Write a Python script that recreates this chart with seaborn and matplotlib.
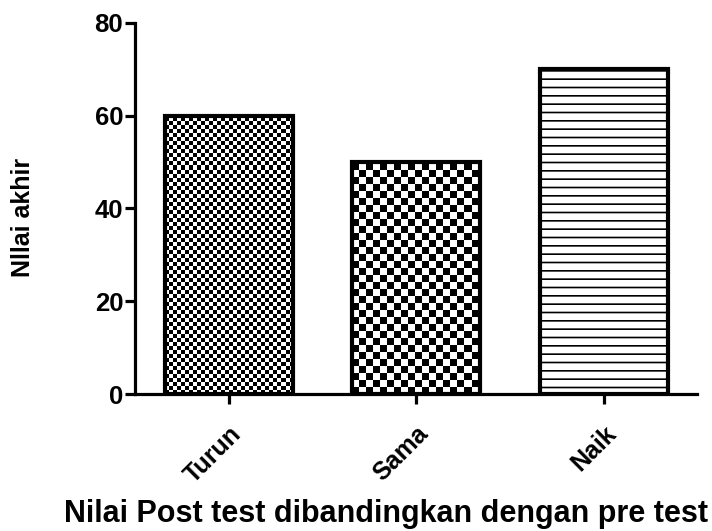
import numpy as np
import matplotlib
matplotlib.use("Agg")
import matplotlib.pyplot as plt
import seaborn as sns

# data
kategori = ["Turun", "Sama", "Naik"]
nilai = [60, 50, 70]
y_ticks = [0, 20, 40, 60, 80]

sns.set_style("ticks")
plt.rcParams["font.family"] = ["Liberation Sans", "DejaVu Sans"]
plt.rcParams["font.weight"] = "bold"
plt.rcParams["hatch.linewidth"] = 1.2
for k in ["text.color", "axes.labelcolor", "axes.edgecolor", "xtick.color", "ytick.color"]:
    plt.rcParams[k] = "black"

fig = plt.figure(figsize=(7.12, 5.31), dpi=100)
ax = fig.add_axes([0.1896, 0.258, 0.790, 0.699])

sns.barplot(x=kategori, y=nilai, ax=ax, color="white", edgecolor="black",
            linewidth=3, width=0.685, saturation=1)

ax.set_xlim(-0.5, 2.5)
ax.set_ylim(0, 80)
ax.set_yticks(y_ticks)
ax.set_yticklabels([str(t) for t in y_ticks], fontsize=18.5, fontweight="bold")
ax.set_xticks(range(len(kategori)))
ax.set_xticklabels(kategori, fontsize=18, fontweight="bold", rotation=45,
                   ha="right", rotation_mode="anchor")

sns.despine(ax=ax)
for s in ["left", "bottom"]:
    ax.spines[s].set_linewidth(2.3)
    ax.spines[s].set_color("black")
ax.tick_params(axis="both", width=2.3, length=7, color="black",
               labelcolor="black", pad=1.5)
ax.tick_params(axis="x", pad=13)

ax.set_ylabel("Nllai akhir", fontsize=18, fontweight="bold", color="black")
ax.yaxis.set_label_coords(-0.178, 0.477)
ax.set_xlabel("Nilai Post test dibandingkan dengan pre test", fontsize=22,
              fontweight="bold", color="black")
ax.xaxis.set_label_coords(0.447, -0.283)

# pola isian: kotak-kotak untuk Turun dan Sama, garis horizontal untuk Naik
fig.canvas.draw()
ukuran_kotak = [4, 7, None]
for patch, cell in zip(ax.patches, ukuran_kotak):
    if cell is None:
        patch.set_hatch("--")
        continue
    x0, y0 = patch.get_x(), patch.get_y()
    w, h = patch.get_width(), patch.get_height()
    (px0, py0), (px1, py1) = ax.transData.transform([(x0, y0), (x0 + w, y0 + h)])
    nx = int(np.ceil((px1 - px0) / cell))
    ny = int(np.ceil((py1 - py0) / cell))
    papan = (np.add.outer(np.arange(ny), np.arange(nx)) % 2).astype(float)
    x1 = ax.transData.inverted().transform((px0 + nx * cell, py0))[0]
    y1 = ax.transData.inverted().transform((px0, py0 + ny * cell))[1]
    im = ax.imshow(papan, cmap="gray", extent=(x0, x1, y0, y1), origin="lower",
                   interpolation="nearest", aspect="auto", zorder=1.5)
    im.set_clip_path(patch)
    patch.set_facecolor("none")
    patch.set_zorder(3)

ax.set_xlim(-0.5, 2.5)
ax.set_ylim(0, 80)

fig.savefig("out.png", dpi=100)
